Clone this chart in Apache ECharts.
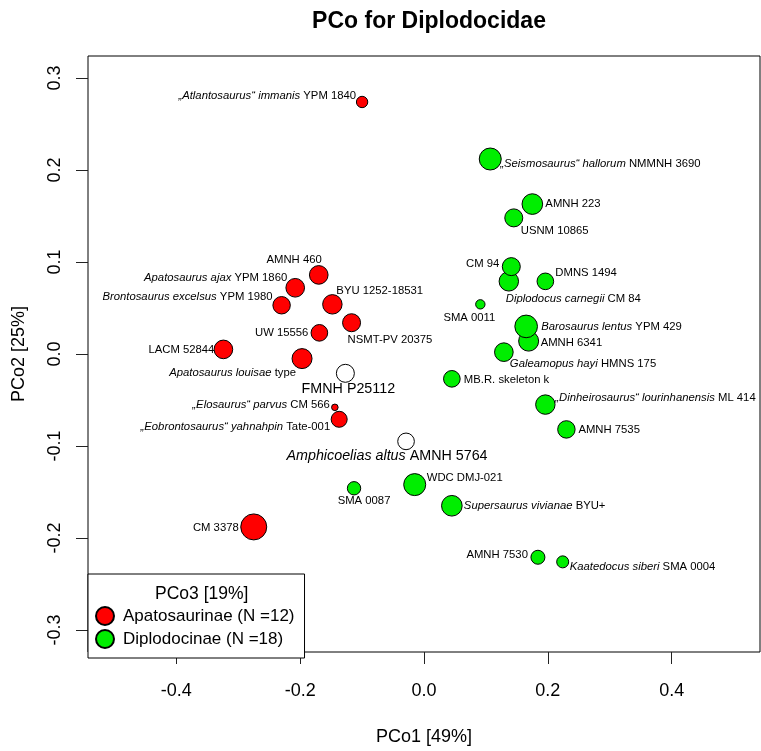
<!DOCTYPE html>
<html>
<head>
<meta charset="utf-8">
<title>PCo for Diplodocidae</title>
<script src="https://cdn.jsdelivr.net/npm/echarts@6/dist/echarts.min.js"></script>
<style>
  html, body { margin: 0; padding: 0; background: #fff; }
  #chart { width: 761px; height: 751px; }
</style>
</head>
<body>
<div id="chart"></div>
<script>
// text between underscores is set in italics
// Apatosaurinae
const apatoNames = [
  '_„Atlantosaurus“ immanis_ YPM 1840', 'AMNH 460', '_Apatosaurus ajax_ YPM 1860',
  '_Brontosaurus excelsus_ YPM 1980', 'BYU 1252-18531', 'NSMT-PV 20375', 'UW 15556',
  'LACM 52844', '_Apatosaurus louisae_ type', '_„Eobrontosaurus“ yahnahpin_ Tate-001',
  '_„Elosaurus“ parvus_ CM 566', 'CM 3378'
];
const apatoPCo1 = [-0.100, -0.170, -0.208, -0.230, -0.148, -0.117, -0.169, -0.324, -0.197, -0.137, -0.144, -0.275];
const apatoPCo2 = [0.274, 0.086, 0.072, 0.053, 0.054, 0.034, 0.023, 0.005, -0.005, -0.071, -0.058, -0.188];
const apatoPCo3 = [-0.058, 0.033, 0.033, 0.018, 0.043, 0.025, 0.008, 0.033, 0.050, 0.000, -0.118, 0.125];

// Diplodocinae
const diploNames = [
  '_„Seismosaurus“ hallorum_ NMMNH 3690', 'AMNH 223', 'USNM 10865', '_Diplodocus carnegii_ CM 84',
  'CM 94', 'DMNS 1494', 'SMA 0011', 'AMNH 6341', '_Barosaurus lentus_ YPM 429',
  '_Galeamopus hayi_ HMNS 175', 'MB.R. skeleton k', '_„Dinheirosaurus“ lourinhanensis_ ML 414',
  'AMNH 7535', 'WDC DMJ-021', 'SMA 0087', '_Supersaurus vivianae_ BYU+', 'AMNH 7530',
  '_Kaatedocus siberi_ SMA 0004'
];
const diploPCo1 = [0.107, 0.175, 0.145, 0.137, 0.141, 0.196, 0.091, 0.169, 0.165, 0.129, 0.045, 0.196, 0.230, -0.015, -0.113, 0.045, 0.184, 0.224];
const diploPCo2 = [0.212, 0.163, 0.148, 0.079, 0.095, 0.079, 0.054, 0.014, 0.030, 0.002, -0.027, -0.055, -0.082, -0.142, -0.146, -0.165, -0.221, -0.226];
const diploPCo3 = [0.075, 0.058, 0.025, 0.043, 0.025, 0.008, -0.083, 0.050, 0.083, 0.033, 0.008, 0.043, 0.018, 0.075, -0.033, 0.058, -0.025, -0.050];

// not assigned to a subfamily
const otherNames = ['FMNH P25112', '_Amphicoelias altus_ AMNH 5764'];
const otherPCo1 = [-0.127, -0.029];
const otherPCo2 = [-0.021, -0.095];
const otherPCo3 = [0.025, 0.008];

const xTicks = [-0.4, -0.2, 0.0, 0.2, 0.4];
const yTicks = [-0.3, -0.2, -0.1, 0.0, 0.1, 0.2, 0.3];

// label placement: [align, dx, dy] from the point centre
const apatoLab = [
  ['right', -6, -6], ['right', 3, -15], ['right', -8, -10], ['right', -9, -8], ['left', 4, -13],
  ['left', -4, 17], ['right', -11, 0], ['right', -9, 0], ['right', -6, 14], ['right', -9, 8],
  ['right', -5, -2], ['right', -15, 1]
];
const diploLab = [
  ['left', 10, 5], ['left', 13, 0], ['left', 7, 13], ['left', -3, 18], ['right', -12, -3],
  ['left', 10, -8], ['center', -11, 14], ['left', 12, 2], ['left', 15, 0], ['left', 6, 12],
  ['left', 12, 1], ['left', 10, -7], ['left', 12, 0], ['left', 12, -7], ['center', 10, 13],
  ['left', 12, 0], ['right', -10, -2], ['left', 7, 5]
];
const otherLab = [['center', 3, 16], ['center', -19, 15]];

const FONT = "'Liberation Sans', Arial, Helvetica, sans-serif";

// turn _italic_ markup into rich text
function richName(s) {
  return s.replace(/_([^_]+)_/g, '{i|$1}');
}

function buildData(names, xs, ys, zs, labs, fontSize) {
  return names.map((n, i) => ({
    name: n,
    value: [xs[i], ys[i], zs[i]],
    label: {
      align: labs[i][0],
      offset: [labs[i][1], labs[i][2]],
      fontSize: fontSize,
      rich: { i: { fontStyle: 'italic', fontSize: fontSize, color: '#000', fontFamily: FONT } }
    }
  }));
}

// symbol diameter from PCo3
function sizeFromPCo3(v) {
  return 2 * (8 + 40 * v[2]);
}

function makeSeries(name, color, data) {
  return {
    name: name,
    type: 'scatter',
    data: data,
    symbol: 'circle',
    symbolSize: sizeFromPCo3,
    itemStyle: { color: color, borderColor: '#000', borderWidth: 1, opacity: 1 },
    label: {
      show: true,
      position: 'inside',
      verticalAlign: 'middle',
      color: '#000',
      textBorderWidth: 0,
      fontFamily: FONT,
      formatter: p => richName(p.name)
    },
    emphasis: { disabled: true }
  };
}

const chart = echarts.init(document.getElementById('chart'));

const apatoName = 'Apatosaurinae (N =' + apatoNames.length + ')';
const diploName = 'Diplodocinae (N =' + diploNames.length + ')';

chart.setOption({
  animation: false,
  backgroundColor: '#fff',
  textStyle: { fontFamily: FONT },
  title: [
    {
      text: 'PCo for Diplodocidae',
      left: 424,
      top: 5,
      textAlign: 'center',
      textStyle: { fontSize: 23, fontWeight: 'bold', color: '#000', fontFamily: FONT }
    },
    {
      text: 'PCo3 [19%]',
      left: 150,
      top: 580,
      textStyle: { fontSize: 17.5, fontWeight: 'normal', color: '#000', fontFamily: FONT }
    }
  ],
  grid: {
    left: 88, right: 1, top: 56, bottom: 93,
    show: true, borderColor: '#000', borderWidth: 1, backgroundColor: '#fff'
  },
  legend: {
    data: [apatoName, diploName],
    orient: 'vertical',
    left: 88,
    top: 574,
    padding: [32, 10, 9, 7],
    itemWidth: 18,
    itemHeight: 18,
    itemGap: 3,
    icon: 'circle',
    selectedMode: false,
    backgroundColor: '#fff',
    borderColor: '#000',
    borderWidth: 1,
    borderRadius: 0,
    textStyle: { fontSize: 17, color: '#000', fontFamily: FONT, padding: [0, 0, 0, 4] }
  },
  xAxis: {
    type: 'value',
    min: -0.5427,
    max: 0.5427,
    name: 'PCo1 [49%]',
    nameLocation: 'middle',
    nameGap: 76,
    nameTextStyle: { fontSize: 18, color: '#000', fontFamily: FONT },
    axisLine: { show: false, onZero: false },
    splitLine: { show: false },
    axisTick: { show: true, length: 12, inside: false, customValues: xTicks, lineStyle: { color: '#222', width: 1 } },
    axisLabel: {
      customValues: xTicks, margin: 30, fontSize: 18, color: '#000', fontFamily: FONT,
      formatter: v => v.toFixed(1)
    }
  },
  yAxis: {
    type: 'value',
    min: -0.324,
    max: 0.324,
    name: 'PCo2 [25%]',
    nameLocation: 'middle',
    nameGap: 60,
    nameTextStyle: { fontSize: 18, color: '#000', fontFamily: FONT },
    axisLine: { show: false, onZero: false },
    splitLine: { show: false },
    axisTick: { show: true, length: 12, inside: false, customValues: yTicks, lineStyle: { color: '#222', width: 1 } },
    axisLabel: {
      customValues: yTicks, rotate: 90, margin: 24, fontSize: 18, color: '#000', fontFamily: FONT,
      formatter: v => v.toFixed(1)
    }
  },
  series: [
    makeSeries(apatoName, '#ff0000', buildData(apatoNames, apatoPCo1, apatoPCo2, apatoPCo3, apatoLab, 11.3)),
    makeSeries(diploName, '#00ee00', buildData(diploNames, diploPCo1, diploPCo2, diploPCo3, diploLab, 11.3)),
    makeSeries('unassigned', '#ffffff', buildData(otherNames, otherPCo1, otherPCo2, otherPCo3, otherLab, 14.3))
  ]
});
</script>
</body>
</html>
